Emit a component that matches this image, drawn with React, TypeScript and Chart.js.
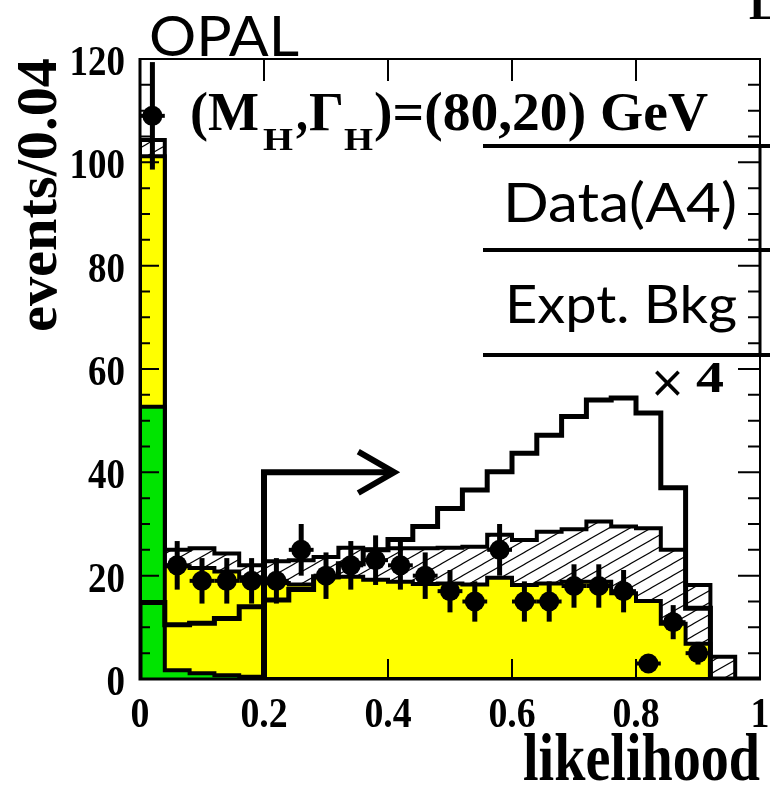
import React, { useEffect, useRef } from 'react';
import { Chart, registerables } from 'chart.js';

Chart.register(...registerables);

// ---------------- data ----------------
const binEdges = [0, 0.04, 0.08, 0.12, 0.16, 0.2, 0.24, 0.28, 0.32, 0.36, 0.4, 0.44, 0.48, 0.52, 0.56, 0.6, 0.64, 0.68, 0.72, 0.76, 0.8, 0.84, 0.88, 0.92, 0.96, 1.0];
const binCenters = [0.02, 0.06, 0.1, 0.14, 0.18, 0.22, 0.26, 0.3, 0.34, 0.38, 0.42, 0.46, 0.5, 0.54, 0.58, 0.62, 0.66, 0.7, 0.74, 0.78, 0.82, 0.86, 0.9, 0.94, 0.98];

// green component (stack top)
const greenBkg = [52.7, 1.7, 1.1, 0.75, 0.45, 0, 0, 0, 0, 0, 0, 0, 0, 0, 0, 0, 0, 0, 0, 0, 0, 0, 0, 0, 0];
// yellow component (stack top, includes green)
const yellowBkg = [101.2, 21.8, 21.5, 20.8, 19.7, 18.6, 18.3, 19.7, 19.8, 19.2, 18.8, 18.4, 18.5, 18.3, 19.6, 18.2, 18.5, 18.8, 18.8, 16.6, 15.1, 10.7, 6.8, 0, 0];
// hatched component (stack top = total expected background)
const hatchedBkg = [104.3, 25.0, 25.3, 24.3, 22.0, 22.8, 23.0, 23.6, 25.4, 25.0, 25.3, 25.3, 25.4, 25.6, 27.9, 26.9, 28.5, 29.0, 30.5, 29.5, 29.2, 25.0, 18.2, 4.3, 0];
// signal x 4 (open histogram)
const signalX4 = [14.8, 10.5, 10.8, 11.7, 14.0, 15.3, 17.3, 19.8, 22.3, 25.0, 27.0, 29.5, 33.0, 36.6, 40.1, 43.7, 47.2, 50.8, 54.0, 54.4, 51.5, 37.0, 13.7, 0, 0];
// data (A4)
const dataCounts = [109, 22, 19, 19, 19, 19, 25, 20, 22, 23, 22, 20, 17, 15, 25, 15, 15, 18, 18, 17, 3, 11, 5, null, null];
const dataErrors = [10.4, 4.7, 4.4, 4.4, 4.4, 4.4, 5.0, 4.5, 4.7, 4.8, 4.7, 4.5, 4.1, 3.9, 5.0, 3.9, 3.9, 4.2, 4.2, 4.1, 1.7, 3.3, 2.2, null, null];

const yTicks = [0, 20, 40, 60, 80, 100, 120];
const yTickLabels = ['0', '20', '40', '60', '80', '100', '120'];
const xTicks = [0, 0.2, 0.4, 0.6, 0.8, 1];
const xTickLabels = ['0', '0.2', '0.4', '0.6', '0.8', '1'];

const cutValue = 0.2;
const cutArrowY = 40;
const cutArrowEnd = 0.41;

const SERIF = '"Liberation Serif", "Times New Roman", serif';
const SANS = 'Lato, "Open Sans", sans-serif';

function histPoints(vals: number[]) {
  const pts: { x: number; y: number }[] = [{ x: binEdges[0], y: 0 }];
  vals.forEach((v, i) => pts.push({ x: binEdges[i], y: v }));
  pts.push({ x: binEdges[vals.length], y: vals[vals.length - 1] });
  pts.push({ x: binEdges[vals.length], y: 0 });
  return pts;
}

function drawText(ctx: CanvasRenderingContext2D, text: string, x: number, y: number, font: string, opts: { width?: number; sx?: number; align?: string }) {
  ctx.save();
  ctx.font = font;
  ctx.textAlign = 'left';
  ctx.textBaseline = 'alphabetic';
  const w = ctx.measureText(text).width;
  const sx = opts.width ? opts.width / w : opts.sx || 1;
  const tw = w * sx;
  let x0 = x;
  if (opts.align === 'center') x0 = x - tw / 2;
  else if (opts.align === 'right') x0 = x - tw;
  ctx.translate(x0, y);
  ctx.scale(sx, 1);
  ctx.fillStyle = '#000';
  ctx.fillText(text, 0, 0);
  ctx.restore();
}

function makeHatch(): CanvasPattern | string {
  const tile = document.createElement('canvas');
  tile.width = 21;
  tile.height = 12;
  const c = tile.getContext('2d');
  if (!c) return '#fff';
  c.strokeStyle = '#000';
  c.lineWidth = 1.1;
  for (const dy of [-12, 0, 12]) {
    c.beginPath();
    c.moveTo(-21, 24 + dy);
    c.lineTo(42, -12 + dy);
    c.stroke();
  }
  const p = c.createPattern(tile, 'repeat');
  return p || '#fff';
}

const decorPlugin = {
  id: 'decor',
  afterDatasetsDraw(chart: any) {
    const ctx: CanvasRenderingContext2D = chart.ctx;
    const xs = chart.scales.x;
    const ys = chart.scales.y;
    ctx.save();
    // cut arrow
    ctx.strokeStyle = '#000';
    ctx.lineJoin = 'miter';
    ctx.lineCap = 'butt';
    ctx.lineWidth = 6;
    ctx.beginPath();
    ctx.moveTo(xs.getPixelForValue(cutValue), ys.getPixelForValue(0));
    ctx.lineTo(xs.getPixelForValue(cutValue), ys.getPixelForValue(cutArrowY));
    ctx.lineTo(xs.getPixelForValue(cutArrowEnd) - 3, ys.getPixelForValue(cutArrowY));
    ctx.stroke();
    ctx.beginPath();
    ctx.moveTo(xs.getPixelForValue(cutArrowEnd - 0.058), ys.getPixelForValue(cutArrowY + 4));
    ctx.lineTo(xs.getPixelForValue(cutArrowEnd), ys.getPixelForValue(cutArrowY));
    ctx.lineTo(xs.getPixelForValue(cutArrowEnd - 0.058), ys.getPixelForValue(cutArrowY - 4));
    ctx.stroke();
    // error bars
    ctx.lineCap = 'butt';
    binCenters.forEach((xc, i) => {
      const n = dataCounts[i];
      const e = dataErrors[i];
      if (n == null || e == null) return;
      const px = xs.getPixelForValue(xc);
      const py = ys.getPixelForValue(n);
      ctx.lineWidth = 5;
      ctx.beginPath();
      ctx.moveTo(px, ys.getPixelForValue(Math.min(n + e, 119.6)));
      ctx.lineTo(px, ys.getPixelForValue(Math.max(n - e, 0)));
      ctx.stroke();
      ctx.lineWidth = 4;
      ctx.beginPath();
      ctx.moveTo(xs.getPixelForValue(binEdges[i]), py);
      ctx.lineTo(xs.getPixelForValue(binEdges[i + 1]), py);
      ctx.stroke();
    });
    ctx.restore();
  },
  afterDraw(chart: any) {
    const ctx: CanvasRenderingContext2D = chart.ctx;
    const xs = chart.scales.x;
    const ys = chart.scales.y;
    const a = chart.chartArea;
    ctx.save();
    ctx.strokeStyle = '#000';
    ctx.lineCap = 'butt';
    // ticks
    ctx.lineWidth = 2;
    for (let v = 0; v <= 120; v += 5) {
      const py = ys.getPixelForValue(v);
      const major = v % 20 === 0;
      ctx.beginPath();
      ctx.moveTo(a.left, py);
      ctx.lineTo(a.left + (major ? 19 : 10), py);
      ctx.moveTo(a.right, py);
      ctx.lineTo(a.right - (major ? 22 : 12), py);
      ctx.stroke();
    }
    xTicks.forEach((v) => {
      if (v === 0 || v === 1) return;
      const px = xs.getPixelForValue(v);
      ctx.beginPath();
      ctx.moveTo(px, a.bottom);
      ctx.lineTo(px, a.bottom - 20);
      ctx.moveTo(px, a.top);
      ctx.lineTo(px, a.top + 22);
      ctx.stroke();
    });
    // frame
    ctx.lineWidth = 2;
    ctx.beginPath();
    ctx.moveTo(a.left, a.top);
    ctx.lineTo(a.right, a.top);
    ctx.lineTo(a.right, a.bottom);
    ctx.stroke();
    ctx.lineWidth = 3;
    ctx.beginPath();
    ctx.moveTo(a.left, a.top - 1);
    ctx.lineTo(a.left, a.bottom);
    ctx.lineTo(a.right + 1, a.bottom);
    ctx.stroke();

    // tick labels
    yTicks.forEach((v, i) => {
      const py = ys.getPixelForValue(v);
      drawText(ctx, yTickLabels[i], 125, py + 16, `bold 42px ${SERIF}`, { sx: 0.88, align: 'right' });
    });
    xTicks.forEach((v, i) => {
      const px = xs.getPixelForValue(v);
      drawText(ctx, xTickLabels[i], px, 727, `bold 42px ${SERIF}`, { sx: 0.9, align: 'center' });
    });

    // axis titles
    drawText(ctx, 'likelihood', 523, 780, `bold 68px ${SERIF}`, { width: 237 });
    ctx.save();
    ctx.translate(56, 332);
    ctx.rotate(-Math.PI / 2);
    drawText(ctx, 'events/0.04', 0, 0, `bold 56px ${SERIF}`, { width: 274 });
    ctx.restore();

    // OPAL
    drawText(ctx, 'OPAL', 149, 56, `400 56px ${SANS}`, { width: 150 });
    // corner L
    drawText(ctx, 'L', 749, 19, `bold 46px ${SERIF}`, { sx: 1 });

    // legend title
    drawText(ctx, '(M', 190, 130, `bold 54px ${SERIF}`, { width: 69 });
    drawText(ctx, 'H', 263, 150, `bold 32px ${SERIF}`, { width: 30 });
    drawText(ctx, ',', 296, 130, `bold 54px ${SERIF}`, { width: 12 });
    drawText(ctx, '\u0393', 309, 130, `bold 54px ${SERIF}`, { width: 35 });
    drawText(ctx, 'H', 344, 150, `bold 32px ${SERIF}`, { width: 29 });
    drawText(ctx, ')=(80,20) GeV', 374, 130, `bold 54px ${SERIF}`, { width: 334 });

    // legend box
    ctx.lineWidth = 4;
    [146, 250, 355].forEach((yy) => {
      ctx.beginPath();
      ctx.moveTo(483, yy);
      ctx.lineTo(770, yy);
      ctx.stroke();
    });
    ctx.lineWidth = 3;
    ctx.beginPath();
    ctx.moveTo(a.right, 146);
    ctx.lineTo(a.right, 355);
    ctx.stroke();
    drawText(ctx, 'Data(A4)', 503, 222, `400 54px ${SANS}`, { width: 234 });
    drawText(ctx, 'Expt. Bkg', 505, 323, `400 52px ${SANS}`, { width: 232 });

    // x 4
    drawText(ctx, '\u00D7', 649, 397, `44px "DejaVu Sans", sans-serif`, { sx: 1 });
    drawText(ctx, '4', 696, 392, `bold 44px ${SERIF}`, { width: 28 });
    ctx.restore();
  },
};

export default function App() {
  const canvasRef = useRef<HTMLCanvasElement | null>(null);

  useEffect(() => {
    const canvas = canvasRef.current;
    if (!canvas) return;
    const hatch = makeHatch();
    const dataPts = binCenters
      .map((x, i) => (dataCounts[i] == null ? null : { x, y: dataCounts[i] as number }))
      .filter((p) => p !== null);

    const chart = new Chart(canvas, {
      type: 'line',
      data: {
        datasets: [
          {
            label: 'Data(A4)',
            data: dataPts as any,
            showLine: false,
            pointRadius: 10,
            pointBackgroundColor: '#000',
            pointBorderWidth: 0,
            order: 0,
          },
          {
            label: 'signal x4',
            data: histPoints(signalX4),
            stepped: 'before',
            borderColor: '#000',
            borderWidth: 5,
            fill: false,
            pointRadius: 0,
            order: 1,
          },
          {
            label: 'green bkg',
            data: histPoints(greenBkg),
            stepped: 'before',
            borderColor: '#000',
            borderWidth: 4,
            backgroundColor: '#00e400',
            fill: 'origin',
            pointRadius: 0,
            order: 2,
          },
          {
            label: 'yellow bkg',
            data: histPoints(yellowBkg),
            stepped: 'before',
            borderColor: '#000',
            borderWidth: 4,
            backgroundColor: '#ffff00',
            fill: 'origin',
            pointRadius: 0,
            order: 3,
          },
          {
            label: 'hatched bkg',
            data: histPoints(hatchedBkg),
            stepped: 'before',
            borderColor: '#000',
            borderWidth: 4,
            backgroundColor: hatch as any,
            fill: 'origin',
            pointRadius: 0,
            order: 4,
          },
        ],
      },
      options: {
        responsive: false,
        animation: false,
        events: [],
        layout: { padding: { left: 140, top: 59, right: 8, bottom: 108 } },
        scales: {
          x: { type: 'linear', min: 0, max: 1, display: false },
          y: { type: 'linear', min: 0, max: 120, display: false },
        },
        elements: { line: { tension: 0, borderJoinStyle: 'miter', borderCapStyle: 'butt' } },
        plugins: {
          legend: { display: false },
          tooltip: { enabled: false },
          filler: { drawTime: 'beforeDatasetDraw' },
        } as any,
      },
      plugins: [decorPlugin],
    });
    return () => chart.destroy();
  }, []);

  return (
    <div style={{ position: 'absolute', left: 0, top: 0, width: 770, height: 787, background: '#fff' }}>
      <canvas ref={canvasRef} width={770} height={787} style={{ display: 'block', width: 770, height: 787 }} />
    </div>
  );
}
